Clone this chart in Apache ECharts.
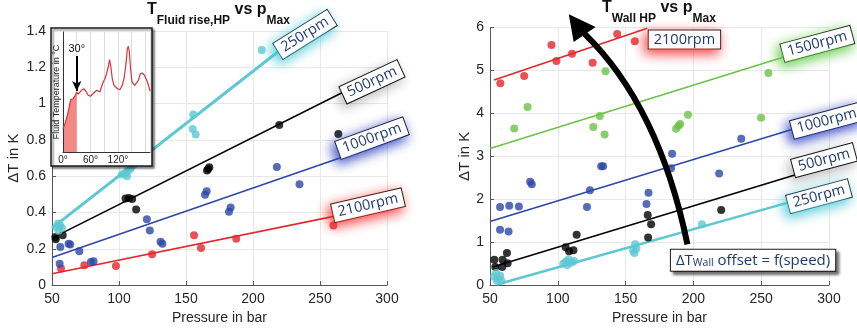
<!DOCTYPE html>
<html>
<head>
<meta charset="utf-8">
<script src="https://cdn.jsdelivr.net/npm/echarts/dist/echarts.min.js"></script>
<style>
  html, body { margin: 0; padding: 0; background: #fff; }
  #chart { width: 857px; height: 330px; }
</style>
</head>
<body>
<div id="chart"></div>
<script>
// ---- Fluid temperature rise at the high-pressure side: [pressure bar, dT K] ----
const fluid250 = [[53,0.32],[54.5,0.34],[56,0.33],[57.5,0.315],[55,0.30],
  [102,0.61],[104.5,0.615],[106.5,0.63],[108.5,0.64],[110.5,0.66],[106,0.60],
  [155.4,0.94],[155,0.86],[157.2,0.83],[206.5,1.295]];
const fluid500 = [[52.5,0.265],[52.8,0.252],[58,0.275],[104.9,0.477],[107.3,0.480],
  [109.8,0.475],[112.8,0.417],[165.7,0.631],[167.4,0.649],[166.5,0.640],[219.6,0.882],[263.7,0.832]];
const fluid1000 = [[56.2,0.210],[55.7,0.118],[62.4,0.228],[63.6,0.224],[70.4,0.187],[79,0.127],
  [81,0.132],[120.8,0.363],[123,0.301],[131,0.239],[132.4,0.228],[164.2,0.498],[165.4,0.517],
  [182.1,0.404],[183.3,0.428],[217.8,0.651],[234.7,0.556]];
const fluid2100 = [[56.7,0.092],[74.1,0.109],[97.7,0.105],[124.7,0.170],[156,0.274],
  [161.2,0.205],[187.5,0.256],[260,0.328]];

// linear trends [pressure, dT] at both ends
const fluidFit250 = [[50,0.314],[238,1.397]];
const fluidFit500 = [[50,0.259],[288,1.140]];
const fluidFit1000 = [[50,0.152],[288,0.759]];
const fluidFit2100 = [[50,0.063],[285,0.416]];

// ---- Wall temperature at the high-pressure side ----
const wall2100 = [[57.6,4.70],[75.2,4.87],[95.3,5.59],[99,5.22],[110.5,5.39],[125.7,5.18],[143.8,5.85],[156.8,5.68]];
const wall1500 = [[67.9,3.65],[77.7,4.15],[135.2,4.98],[126.2,3.68],[131,3.94],[134.5,3.51],
  [187.2,3.64],[189,3.71],[190.2,3.75],[196,3.97],[249.9,3.90],[255.3,4.94]];
const wall1000 = [[57.4,1.82],[57.4,1.29],[64.2,1.85],[63.7,1.25],[71.3,1.83],[79.6,2.41],[80.8,2.35],
  [121.5,1.82],[123.7,2.21],[132,2.77],[133.4,2.77],[165.4,1.89],[166.9,2.15],[183.5,2.72],
  [184.3,3.06],[219,2.60],[235.3,3.41]];
const wall500 = [[53.2,0.59],[53.9,0.42],[59.3,0.59],[59,0.42],[62.5,0.75],[63,0.51],[105.8,0.88],
  [108.3,0.79],[111.5,0.81],[113.9,1.17],[166.3,1.63],[166.6,1.11],[168.8,1.42],[220.5,1.75]];
const wall250 = [[53,0.20],[54.5,0.28],[56,0.15],[57.5,0.22],[58.5,0.10],[55,0.10],
  [104,0.50],[106,0.55],[108,0.60],[110,0.52],[112,0.56],[107,0.47],
  [155.5,0.80],[157,0.95],[158,0.85],[156.5,0.75],[206.3,1.42]];

const wallFit2100 = [[53,4.775],[166,5.98]];
const wallFit1500 = [[50,3.18],[291,5.55]];
const wallFit1000 = [[50,1.48],[298,3.87]];
const wallFit500 = [[52,0.42],[296,2.77]];
const wallFit250 = [[55,0.014],[292,2.12]];

// ---- Inset: fluid temperature over crank angle [deg, temperature] ----
const insetTemp = [[0,23.3],[3.7,27.7],[9.5,36.7],[13.2,44.3],[16.8,52.3],[19.8,51.7],[22,53.3],
  [24.1,55],[27.1,56.7],[30,60],[32.9,57.7],[36.6,58.3],[40.2,61.7],[45.4,63.3],[49.8,61],
  [54.9,56.7],[60,55.7],[64.4,57.7],[69.5,60],[73.9,61.7],[76.8,61],[80.5,60],[84.1,65],
  [87.8,70],[91.5,73.3],[95.1,78.3],[98.8,85],[101.7,92.3],[104.6,85],[107.6,73.3],[111.2,66.7],
  [114.9,65],[119.3,63.3],[124.4,62.3],[129.5,66.7],[133.9,75],[137.6,88.3],[140.5,103.3],
  [142.7,105.7],[144.9,100],[147.8,81.7],[150.7,70],[153.7,71.7],[156.6,66.7],[160.2,65],
  [164.6,71.7],[169,78.3],[173.4,79],[177.8,76.7],[182.9,71.7],[186.6,66.7],[190,61]];
const insetMarkAngle = 30;

// ---- styling ----
const FONT = "'Liberation Sans', Arial, sans-serif";
const BOXFONT = "'Open Sans', sans-serif";
const COL = { cyan: '#5cc8d3', black: '#000000', blue: '#2d47a6', red: '#e3262b', green: '#6cc247', navy: '#1e3a6c' };
const GLOW = { cyan: 'rgba(70,200,215,0.95)', black: 'rgba(0,0,0,0.25)', blue: 'rgba(40,60,190,0.95)',
  red: 'rgba(245,40,40,0.9)', green: 'rgba(90,200,60,0.95)' };

// speed tags: text, anchor [pressure, dT], tilt in degrees, glow colour
const fluidTags = [
  ['250rpm', [238.8, 1.381], 32, GLOW.cyan],
  ['500rpm', [288.8, 1.120], 25, GLOW.black],
  ['1000rpm', [288.8, 0.810], 20, GLOW.blue],
  ['2100rpm', [285.8, 0.440], 13, GLOW.red]
];
const wallTags = [
  ['2100rpm', [193.4, 5.72], 0, GLOW.red],
  ['1500rpm', [291.4, 5.62], 15, GLOW.green],
  ['1000rpm', [298.4, 3.83], 15, GLOW.blue],
  ['500rpm', [296.3, 2.91], 15, GLOW.black],
  ['250rpm', [292.6, 2.07], 15, GLOW.cyan]
];

function tag(t) {
  return {
    coord: t[1], symbol: 'circle', symbolSize: 1, itemStyle: { color: 'rgba(0,0,0,0)' },
    label: {
      show: true, position: 'inside', formatter: t[0], rotate: t[2],
      color: COL.navy, fontFamily: BOXFONT, fontSize: 14.5,
      backgroundColor: '#fff', borderColor: '#1a1a1a', borderWidth: 1, padding: [2, 5, 1, 5],
      shadowColor: t[3], shadowBlur: 12, shadowOffsetX: -3, shadowOffsetY: 4
    }
  };
}

function mainX(grid) {
  return {
    type: 'value', gridIndex: grid, min: 50, max: 300, interval: 50,
    name: 'Pressure in bar', nameLocation: 'middle', nameGap: 24,
    nameTextStyle: { fontFamily: FONT, fontSize: 14, color: '#262626' },
    axisLine: { show: true, onZero: false, lineStyle: { color: '#555', width: 1 } },
    axisTick: { show: true, inside: true, length: 4, lineStyle: { color: '#555' } },
    axisLabel: { fontFamily: FONT, fontSize: 14, color: '#262626', margin: 7 },
    splitLine: { show: true, lineStyle: { color: '#e8e8e8', width: 1 } }
  };
}
function mainY(grid, max, interval, gap) {
  return {
    type: 'value', gridIndex: grid, min: 0, max: max, interval: interval,
    name: 'ΔT in K', nameLocation: 'middle', nameGap: gap,
    nameTextStyle: { fontFamily: FONT, fontSize: 15, color: '#262626' },
    axisLine: { show: true, onZero: false, lineStyle: { color: '#555', width: 1 } },
    axisTick: { show: true, inside: true, length: 4, lineStyle: { color: '#555' } },
    axisLabel: { fontFamily: FONT, fontSize: 14, color: '#262626', margin: 6,
      formatter: v => String(Math.round(v * 10) / 10) },
    splitLine: { show: true, lineStyle: { color: '#e8e8e8', width: 1 } }
  };
}
function fit(grid, data, color, width) {
  return { type: 'line', xAxisIndex: grid, yAxisIndex: grid, data: data, showSymbol: false,
    symbol: 'none', lineStyle: { color: color, width: width }, z: 2, silent: true };
}
function dots(grid, data, color) {
  return { type: 'scatter', xAxisIndex: grid, yAxisIndex: grid, data: data, symbolSize: 8,
    itemStyle: { color: color }, z: 3 };
}

const titleRich = {
  t: { fontFamily: FONT, fontWeight: 'bold', fontSize: 16, color: '#111', lineHeight: 18, verticalAlign: 'top' },
  s: { fontFamily: FONT, fontWeight: 'bold', fontSize: 12, color: '#111', lineHeight: 13, padding: [13, 0, 0, 0], verticalAlign: 'top' }
};

const chart = echarts.init(document.getElementById('chart'), null, { renderer: 'canvas' });

const option = {
  animation: false,
  backgroundColor: '#fff',
  title: [
    { left: 147, top: 2, padding: 0, text: '{t|T}{s|Fluid rise,HP}{t| vs p}{s|Max}', textStyle: { rich: titleRich } },
    { left: 602, top: 0, padding: 0, text: '{t|T}{s|Wall HP}{t| vs p}{s|Max}', textStyle: { rich: titleRich } }
  ],
  grid: [
    { left: 52, top: 31, width: 335, height: 258 },
    { left: 490, top: 27.5, width: 339, height: 261 },
    { left: 63, top: 32, width: 87, height: 120, z: 11 }
  ],
  xAxis: [
    mainX(0), mainX(1),
    { type: 'value', gridIndex: 2, min: 0, max: 190, interval: 30, z: 12,
      axisLine: { show: true, onZero: false, lineStyle: { color: '#333' } },
      axisTick: { show: false },
      axisLabel: { fontFamily: FONT, fontSize: 10, color: '#222', margin: 3, showMaxLabel: false,
        formatter: v => (v % 60 === 0 && v <= 120) ? v + '°' : '' },
      splitLine: { show: true, lineStyle: { color: '#dcdcdc' } } }
  ],
  yAxis: [
    mainY(0, 1.4, 0.2, 31), mainY(1, 6, 1, 16),
    { type: 'value', gridIndex: 2, min: 0, max: 120, z: 12,
      name: 'Fluid Temperature in °C', nameLocation: 'middle', nameGap: 2,
      nameTextStyle: { fontFamily: FONT, fontSize: 9, color: '#222' },
      axisLine: { show: true, onZero: false, lineStyle: { color: '#333' } },
      axisTick: { show: false }, axisLabel: { show: false }, splitLine: { show: false } }
  ],
  graphic: [
    { type: 'rect', z: 10, shape: { x: 51, y: 28, width: 101, height: 138 },
      style: { fill: '#fff', stroke: '#1a1a1a', lineWidth: 1.5,
        shadowColor: 'rgba(0,0,0,0.45)', shadowBlur: 2, shadowOffsetX: 2, shadowOffsetY: 2 } }
  ],
  series: [
    fit(0, fluidFit2100, COL.red, 1.6), fit(0, fluidFit1000, COL.blue, 1.6),
    fit(0, fluidFit500, COL.black, 1.6), fit(0, fluidFit250, COL.cyan, 3),
    dots(0, fluid2100, COL.red), dots(0, fluid1000, COL.blue),
    dots(0, fluid500, COL.black), dots(0, fluid250, COL.cyan),

    fit(1, wallFit2100, COL.red, 1.6), fit(1, wallFit1500, COL.green, 1.6),
    fit(1, wallFit1000, COL.blue, 1.6), fit(1, wallFit500, COL.black, 1.6), fit(1, wallFit250, COL.cyan, 2.5),
    dots(1, wall2100, COL.red), dots(1, wall1500, COL.green), dots(1, wall1000, COL.blue),
    dots(1, wall500, COL.black), dots(1, wall250, COL.cyan),

    // speed tags
    { type: 'scatter', xAxisIndex: 0, yAxisIndex: 0, data: [], z: 8, markPoint: { z: 8, data: fluidTags.map(tag) } },
    { type: 'scatter', xAxisIndex: 1, yAxisIndex: 1, data: [], z: 8, markPoint: { z: 8, data: wallTags.map(tag).concat([{
      coord: [244, 0.58], symbol: 'circle', symbolSize: 1, itemStyle: { color: 'rgba(0,0,0,0)' },
      label: { show: true, position: 'inside', formatter: '{n|ΔT}{w|Wall}{n| offset = f(speed)}',
        backgroundColor: '#fff', borderColor: '#1a1a1a', borderWidth: 1, padding: [3, 5, 2, 5],
        shadowColor: 'rgba(0,0,0,0.6)', shadowBlur: 3, shadowOffsetX: 3, shadowOffsetY: 3,
        rich: { n: { fontFamily: BOXFONT, fontSize: 15, color: COL.navy },
                w: { fontFamily: BOXFONT, fontSize: 10.5, color: COL.navy, padding: [5, 0, 0, 0] } } }
    }]) } },

    // inset
    { type: 'line', xAxisIndex: 2, yAxisIndex: 2, z: 12, showSymbol: false, symbol: 'none',
      data: insetTemp.filter(p => p[0] <= insetMarkAngle),
      lineStyle: { width: 0 }, areaStyle: { color: '#f08a82', opacity: 1, origin: 'start' } },
    { type: 'line', xAxisIndex: 2, yAxisIndex: 2, z: 13, showSymbol: false, symbol: 'none',
      data: insetTemp, lineStyle: { color: '#d8343a', width: 1.2 },
      markLine: { z: 14, silent: true, symbol: ['none', 'arrow'], symbolSize: [7, 10], precision: 0,
        lineStyle: { color: '#000', width: 2, type: 'solid' },
        label: { show: true, position: 'start', formatter: insetMarkAngle + '°', fontFamily: FONT, fontSize: 11, color: '#111', distance: 2 },
        data: [[{ coord: [insetMarkAngle, 96] }, { coord: [insetMarkAngle, 61] }]] } }
  ]
};
chart.setOption(option);

// curved arrow indicating the speed-dependent wall offset (anchored in pressure/dT space)
const P = p => chart.convertToPixel({ gridIndex: 1 }, p);
const a0 = P([195.6, 0.95]), ac = P([174.6, 4.16]), a1 = P([119.8, 5.85]);
const hTip = P([108.1, 6.31]), hA = P([127.9, 6.01]), hB = P([111.7, 5.66]);
chart.setOption({
  graphic: [
    option.graphic[0],
    { type: 'bezierCurve', z: 6, shape: { x1: a0[0], y1: a0[1], cpx1: ac[0], cpy1: ac[1], x2: a1[0], y2: a1[1] },
      style: { stroke: '#000', lineWidth: 6, fill: null, lineCap: 'butt' } },
    { type: 'polygon', z: 6, shape: { points: [hTip, hA, hB] }, style: { fill: '#000' } }
  ]
});
</script>
</body>
</html>
